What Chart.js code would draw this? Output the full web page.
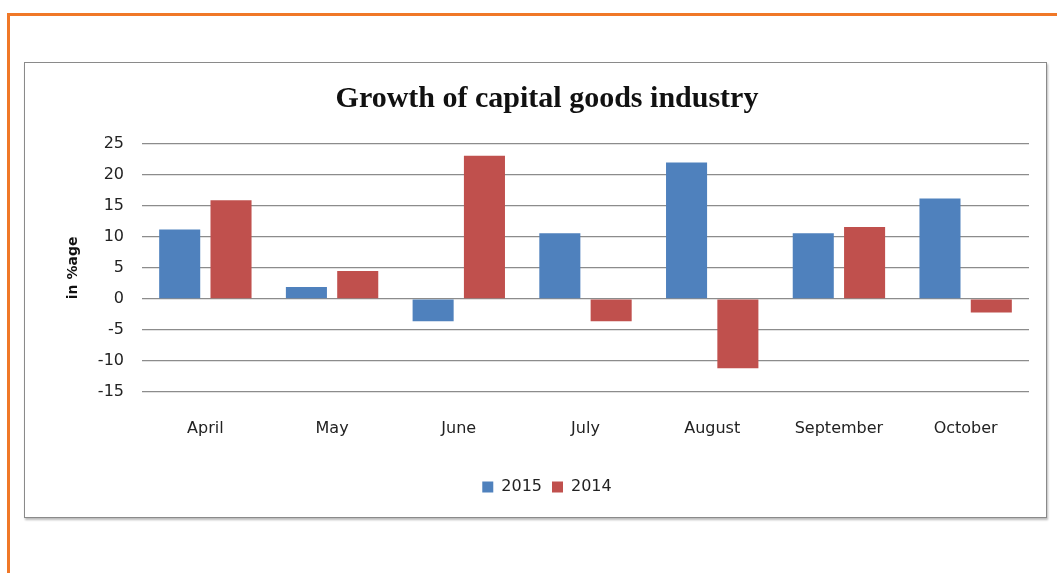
<!DOCTYPE html>
<html>
<head>
<meta charset="utf-8">
<script src="https://cdn.jsdelivr.net/npm/chart.js@4"></script>
<style>
  html, body { margin: 0; padding: 0; background: #fff; }
  body { width: 1057px; height: 573px; position: relative; overflow: hidden; }
  .frame { position: absolute; left: 7px; top: 13px; width: 1050px; height: 560px;
           border-top: 3px solid #f07828; border-left: 3px solid #f07828; box-sizing: border-box; }
  .box { position: absolute; left: 24px; top: 62px; width: 1023px; height: 456px;
         border: 1px solid #8a8a8a; box-shadow: 1px 2px 2px #bbb; box-sizing: border-box; }
  #wrap { position: absolute; left: 0; top: 0; width: 1057px; height: 573px; }
</style>
</head>
<body>
<div class="frame"></div>
<div class="box"></div>
<div id="wrap"><canvas id="growthChart" width="1057" height="573"></canvas></div>
<script>
const months = ['April', 'May', 'June', 'July', 'August', 'September', 'October'];
const values2015 = [11.2, 1.9, -3.6, 10.6, 22.0, 10.6, 16.2];
const values2014 = [15.9, 4.5, 23.1, -3.6, -11.2, 11.6, -2.2];
const yTicks = [-15, -10, -5, 0, 5, 10, 15, 20, 25];

const tickFont = { family: 'DejaVu Sans', size: 16 };

const ctx = document.getElementById('growthChart').getContext('2d');

new Chart(ctx, {
    type: 'bar',
    data: {
        labels: months,
        datasets: [{
            label: '2015',
            data: values2015,
            backgroundColor: '#4f81bd',
            barPercentage: 0.8,
            categoryPercentage: 0.81
        }, {
            label: '2014',
            data: values2014,
            backgroundColor: '#c0504d',
            barPercentage: 0.8,
            categoryPercentage: 0.81
        }]
    },
    options: {
        responsive: false,
        animation: false,
        layout: { padding: { left: 65, right: 28, top: 81, bottom: 68 } },
        plugins: {
            title: {
                display: true,
                text: 'Growth of capital goods industry',
                color: '#111',
                font: { family: 'Liberation Serif', size: 30, weight: 'bold' },
                padding: { top: 0, bottom: 27 }
            },
            legend: {
                position: 'bottom',
                labels: {
                    color: '#222',
                    font: tickFont,
                    boxWidth: 11,
                    boxHeight: 11,
                    padding: 10
                }
            },
            tooltip: { enabled: false }
        },
        scales: {
            x: {
                grid: { display: false },
                border: { display: false },
                afterFit: axis => { axis.height += 12; },
                ticks: { color: '#222', font: tickFont, padding: 19 }
            },
            y: {
                min: -15,
                max: 25,
                afterBuildTicks: axis => { axis.ticks = yTicks.map(v => ({ value: v })); },
                afterFit: axis => { axis.width = 77; },
                grid: { color: '#8c8c8c', lineWidth: 1.3, drawTicks: false },
                border: { display: false },
                ticks: { color: '#222', font: tickFont, padding: 18 },
                title: {
                    display: true,
                    text: 'in %age',
                    color: '#111',
                    font: { family: 'DejaVu Sans', size: 14, weight: 'bold' },
                    padding: 0
                }
            }
        }
    }
});
</script>
</body>
</html>
